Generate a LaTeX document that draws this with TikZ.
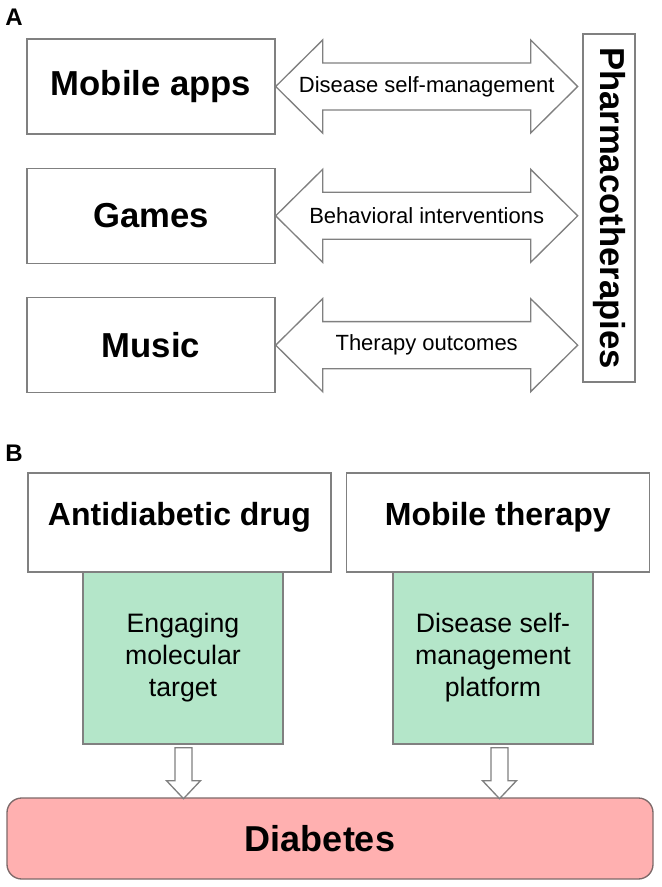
\documentclass[tikz,border=0pt]{standalone}
\usepackage{fontspec}
\setmainfont{Liberation Sans}
\usepackage{xcolor}
\usetikzlibrary{calc}
\usetikzlibrary{positioning}

\definecolor{linegray}{RGB}{128,128,128}
\definecolor{mintgreen}{RGB}{180,230,201}
\definecolor{rosepink}{RGB}{255,176,176}
\definecolor{roseedge}{RGB}{125,105,105}

% two-headed block arrow starting at the east side of a box
\newcommand{\biarrow}[3]{%
  \draw[hollow] (#1.east) -- ++(47,-46.5) -- ++(0,23) -- ++(208,0) -- ++(0,-23) -- ++(47,46.5)
     -- ++(-47,46.5) -- ++(0,-23) -- ++(-208,0) -- ++(0,23) -- cycle;
  \node[arrtext] (#2) at ($(#1.east)+(151,0)$) {#3};}

% hollow block arrow pointing down out of a box
\newcommand{\downblock}[2]{%
  \draw[hollow] ($(#1.south)+(#2,3)$) ++(-8.5,0) -- ++(0,33) -- ++(-8.5,0) -- ++(17,18)
     -- ++(17,-18) -- ++(-8.5,0) -- ++(0,-33) -- cycle;}

\begin{document}
\begin{tikzpicture}[x=0.75pt,y=-0.75pt,node distance=24.75pt,semithick]
  \tikzstyle{panel}=[font=\fontsize{18}{21}\selectfont\bfseries, inner sep=0pt]
  \tikzstyle{box}=[draw=linegray, line width=1pt, fill=white, minimum width=186pt, minimum height=71.25pt, font=\fontsize{26}{30}\selectfont\bfseries]
  \tikzstyle{tall}=[draw=linegray, line width=1pt, fill=white, minimum width=261pt, minimum height=39pt, inner sep=0pt, rotate=-90, font=\fontsize{26}{30}\selectfont\bfseries]
  \tikzstyle{hollow}=[draw=linegray, line width=1pt, fill=white, line join=miter]
  \tikzstyle{arrtext}=[font=\fontsize{16.5}{20}\selectfont, inner sep=0pt]
  \tikzstyle{topbox}=[draw=linegray, line width=1pt, fill=white, minimum width=227.25pt, minimum height=74.25pt, text height=17pt, text depth=13pt, font=\fontsize{24}{28}\selectfont\bfseries]
  \tikzstyle{greenbox}=[draw=linegray, line width=1pt, fill=mintgreen, minimum width=150pt, minimum height=129pt, align=center, font=\fontsize{20}{24}\selectfont]
  \tikzstyle{target}=[draw=roseedge, line width=1pt, fill=rosepink, rounded corners=11pt, minimum width=484.5pt, minimum height=60.75pt, font=\fontsize{27}{32}\selectfont\bfseries]

  \useasboundingbox (0,0) rectangle (661,887);

  % panel A
  \node[panel] (labA) at (14,17) {A};
  \node[box] (apps) at (151,86.5) {Mobile apps};
  \node[box] (games) [below=of apps] {Games};
  \node[box] (music) [below=of games] {Music};
  \node[tall] (pharma) at (609,208) {Pharmacotherapies};

  \biarrow{apps}{selfman}{Disease self-management}
  \biarrow{games}{behav}{Behavioral interventions}
  \biarrow{music}{outcome}{Therapy outcomes}

  % panel B
  \node[panel] (labB) at (14,453) {B};
  \node[greenbox] (engage) at (183,658) {Engaging\\molecular\\target};
  \node[greenbox] (platform) at (493,658) {Disease self-\\management\\platform};
  \node[topbox] (drug) at (179.5,522.5) {Antidiabetic drug};
  \node[topbox] (mobile) [right=10.5pt of drug] {Mobile therapy};
  \node[target] (dia) at (330,838.5) {Diabetes\kern15pt};

  \downblock{engage}{0.5}
  \downblock{platform}{6.5}
\end{tikzpicture}
\end{document}
